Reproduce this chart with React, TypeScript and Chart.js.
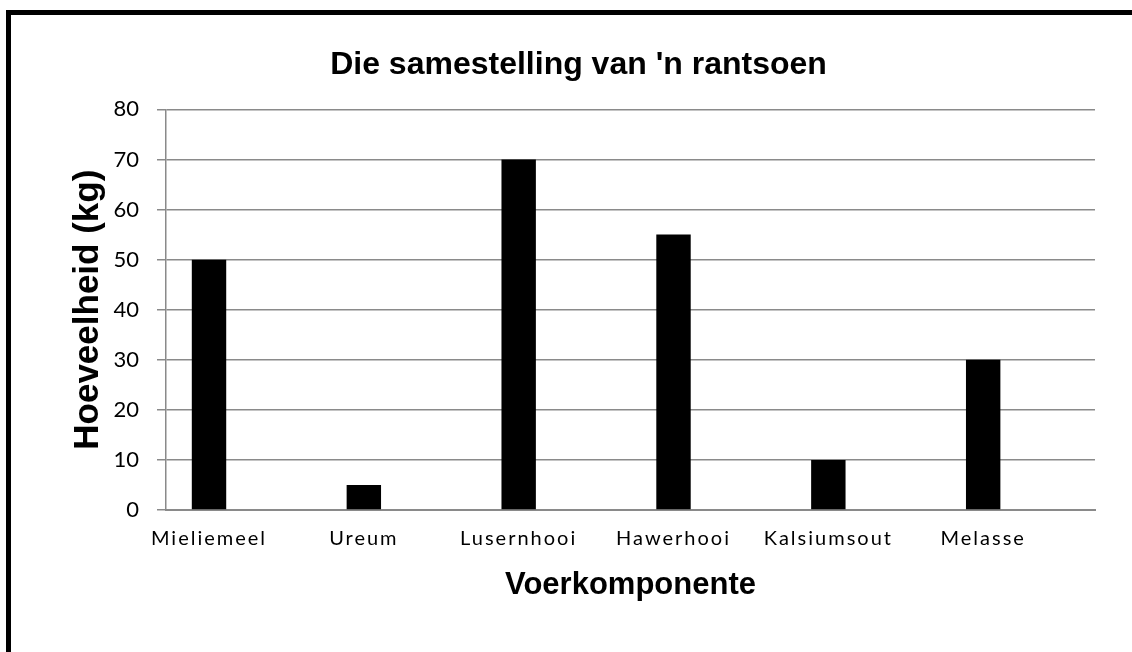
import React, { useEffect, useRef } from "react";
import { Chart, registerables } from "chart.js";

Chart.register(...registerables);

const categories = ["Mieliemeel", "Ureum", "Lusernhooi", "Hawerhooi", "Kalsiumsout", "Melasse"];
const amounts = [50, 5, 70, 55, 10, 30];
const emptySeriesA: (number | null)[] = [null, null, null, null, null, null];
const emptySeriesB: (number | null)[] = [null, null, null, null, null, null];
const yMin = 0;
const yMax = 80;
const yStep = 10;
const chartTitle = "Die samestelling van 'n rantsoen";
const xTitle = "Voerkomponente";
const yTitle = "Hoeveelheid (kg)";

const W = 1132;
const H = 652;

const letterSpacingPlugin = {
  id: "xLetterSpacing",
  afterUpdate(chart: any) {
    const xs = chart.scales.x;
    if (xs && !xs.__patched) {
      const orig = xs.drawLabels.bind(xs);
      xs.drawLabels = (area: any) => {
        const ctx = chart.ctx;
        ctx.save();
        try { (ctx as any).letterSpacing = "2px"; } catch (e) {}
        orig(area);
        ctx.restore();
      };
      xs.__patched = true;
    }
  },
};

export default function App() {
  const ref = useRef<HTMLCanvasElement | null>(null);
  useEffect(() => {
    if (!ref.current) return;
    const chart = new Chart(ref.current, {
      type: "bar",
      data: {
        labels: categories,
        datasets: [
          { label: "Hoeveelheid", data: amounts, backgroundColor: "#000000", borderWidth: 0, categoryPercentage: 0.6667, barPercentage: 1 },
          { label: "", data: emptySeriesA, backgroundColor: "#000000", categoryPercentage: 0.6667, barPercentage: 1 },
          { label: "", data: emptySeriesB, backgroundColor: "#000000", categoryPercentage: 0.6667, barPercentage: 1 },
        ],
      },
      options: {
        responsive: false,
        animation: false,
        layout: { padding: { left: 62, right: 37, top: 20, bottom: 40 } },
        plugins: {
          legend: { display: false },
          tooltip: { enabled: false },
          title: {
            display: true,
            text: chartTitle,
            color: "#000",
            font: { family: "'Liberation Sans', Arial, sans-serif", size: 32, weight: "bold" },
            padding: { top: 26, bottom: 25 },
          },
        },
        scales: {
          x: {
            afterFit: (s: any) => { s.height = 102; },
            grid: { display: false, drawTicks: false },
            border: { display: true, color: "#8a8a8a", width: 2 },
            ticks: {
              color: "#000",
              font: { family: "Lato, 'Open Sans', sans-serif", size: 20 },
              padding: 17,
              labelOffset: -34.4,
              maxRotation: 0,
              autoSkip: false,
            },
            title: {
              display: true,
              text: xTitle,
              color: "#000",
              font: { family: "'Liberation Sans', Arial, sans-serif", size: 31, weight: "bold" },
              padding: { top: 0, bottom: 8 },
            },
          },
          y: {
            min: yMin,
            max: yMax,
            afterFit: (s: any) => { s.width = 104; },
            grid: { color: "#8a8a8a", lineWidth: 1.5, tickLength: 9, drawTicks: true },
            border: { display: true, color: "#8a8a8a", width: 1.5 },
            ticks: {
              stepSize: yStep,
              color: "#000",
              font: { family: "Lato, 'Open Sans', sans-serif", size: 22 },
              padding: 18,
            },
            title: {
              display: true,
              text: yTitle,
              color: "#000",
              font: { family: "'Liberation Sans', Arial, sans-serif", size: 35, weight: "bold" },
              padding: { top: 5, bottom: 0 },
            },
          },
        },
      },
      plugins: [letterSpacingPlugin],
    });
    return () => chart.destroy();
  }, []);

  return (
    <div style={{ position: "fixed", left: 0, top: 0, width: W, height: H, overflow: "hidden", background: "#fff" }}>
      <canvas ref={ref} width={W} height={H} style={{ position: "absolute", left: 0, top: 0, width: W, height: H }} />
      <div
        style={{
          position: "absolute",
          left: 6,
          top: 10,
          width: W + 40,
          height: H + 40,
          border: "5px solid #000",
          boxSizing: "border-box",
          pointerEvents: "none",
        }}
      />
    </div>
  );
}
